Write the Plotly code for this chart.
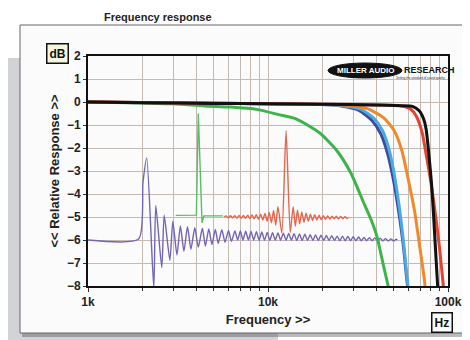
import plotly.graph_objects as go

# ---------------- data (frequency in kHz, level in dB) ----------------
black_f = [1, 2, 5, 10, 20, 40, 55, 63.5, 69.4, 73.3, 75.6, 77.8, 80.9, 83.2, 87.6, 88.5]
black_db = [0, -0.03, -0.06, -0.08, -0.1, -0.13, -0.16, -0.19, -0.39, -0.75, -1.18, -2.05, -3.5, -4.96, -8.0, -8.4]

red_f = [1, 10, 40, 55, 62, 66.7, 71.9, 75.9, 80.4, 85.4, 89.9, 93.8, 95]
red_db = [0, -0.08, -0.13, -0.17, -0.3, -0.62, -1.34, -2.35, -3.5, -4.96, -6.4, -7.85, -8.3]

orange_f = [1, 10, 20, 27.7, 35.6, 44, 50.3, 55.4, 59.8, 65.1, 69.3, 74, 75]
orange_db = [0, -0.08, -0.11, -0.14, -0.29, -0.69, -1.25, -2.11, -3.27, -4.71, -6.16, -7.75, -8.3]

ltblue_f = [1, 10, 20, 25.4, 32.7, 38.9, 43.5, 47.3, 50.7, 54, 56.8, 59.5, 60.5]
ltblue_db = [0, -0.08, -0.11, -0.15, -0.31, -0.72, -1.28, -2.14, -3.3, -4.74, -6.19, -7.79, -8.3]

dkblue_f = [1, 10, 20, 25, 32, 37.8, 42.3, 46.2, 49.8, 53.3, 56.4, 59.2, 60.3]
dkblue_db = [0, -0.08, -0.11, -0.16, -0.36, -0.8, -1.38, -2.25, -3.4, -4.8, -6.2, -7.8, -8.3]

green_f = [1, 2, 3, 4.45, 6.2, 8.65, 11.6, 14.4, 19.4, 24.1, 28.9, 34, 37.3, 40.2, 43.4, 46.5, 47.3]
green_db = [0, -0.04, -0.08, -0.17, -0.22, -0.32, -0.56, -0.74, -1.35, -2.11, -3.1, -4.38, -5.1, -5.82, -6.97, -8.0, -8.3]

# impulse responses drawn on the same axes
gimp_f = [3.07, 4.0, 4.1, 4.3, 4.4, 5.61]
gimp_db = [-4.93, -4.92, -0.5, -5.25, -4.95, -4.95]

rimp_f = [5.70, 5.85, 6.02, 6.19, 6.36, 6.54, 6.72, 6.91, 7.10, 7.30, 7.50, 7.71, 7.93, 8.15,
          8.38, 8.61, 8.85, 9.10, 9.35, 9.62, 9.89, 10.16, 10.45, 10.74, 11.04, 11.35,
          11.94, 12.6, 13.29,
          13.8, 14.19, 14.58, 14.99, 15.41, 15.84, 16.28, 16.74, 17.21, 17.69, 18.18, 18.69,
          19.22, 19.75, 20.31, 20.88, 21.46, 22.06, 22.68, 23.31, 23.97, 24.64, 25.33, 26.04,
          26.77, 27.52, 28.0]
rimp_db = [-5.0, -4.95, -5.04, -4.94, -5.04, -4.94, -5.05, -4.93, -5.05, -4.93, -5.06, -4.92, -5.07, -4.91,
           -5.08, -4.9, -5.1, -4.88, -5.13, -4.85, -5.18, -4.80, -5.25, -4.72, -5.35, -4.55,
           -5.7, -1.25, -5.68,
           -4.55, -5.4, -4.7, -5.3, -4.78, -5.23, -4.84, -5.18, -4.88, -5.15, -4.9, -5.13,
           -4.92, -5.12, -4.94, -5.1, -4.95, -5.09, -4.96, -5.08, -4.97, -5.08, -4.98, -5.07,
           -4.99, -5.06, -5.03]

pimp_f = [1.0, 1.91, 2.02, 2.12, 2.32, 2.38, 2.57, 2.65, 2.85, 2.96, 3.12, 3.26, 3.41, 3.57, 3.73,
          3.92, 4.10, 4.32, 4.49, 4.69, 4.88, 5.10, 5.29, 5.54, 5.77, 6.03, 6.27, 6.55,
          6.78, 7.02, 7.26, 7.52, 7.78, 8.05, 8.33, 8.62, 8.93, 9.24, 9.56, 9.90, 10.24, 10.60,
          10.97, 11.36, 11.75, 12.17, 12.59, 13.03, 13.49, 13.96, 14.45, 14.95, 15.48, 16.02,
          16.58, 17.16, 17.76, 18.38, 19.03, 19.69, 20.38, 21.10, 21.83, 22.60, 23.39, 24.21,
          25.05, 25.93, 26.84, 27.78, 28.75, 29.76, 30.80, 31.87, 32.99, 34.15, 35.34, 36.58,
          37.86, 39.18, 40.55, 41.97, 43.44, 44.96, 46.54, 48.17, 49.85, 51.6, 52.3]
pimp_db = [-6.0, -5.96, -3.5, -2.43, -8.1, -4.5, -7.2, -4.92, -6.88, -5.19, -6.65, -5.39, -6.49, -5.42, -6.40,
           -5.47, -6.31, -5.49, -6.26, -5.52, -6.2, -5.54, -6.15, -5.55, -6.1, -5.58, -6.06, -5.61,
           -6.00, -5.61, -6.00, -5.62, -6.00, -5.63, -6.00, -5.64, -6.01, -5.65, -6.01, -5.67, -6.01, -5.68,
           -6.01, -5.69, -6.01, -5.70, -6.01, -5.72, -6.01, -5.73, -6.02, -5.74, -6.02, -5.75,
           -6.02, -5.77, -6.02, -5.78, -6.02, -5.79, -6.02, -5.80, -6.02, -5.81, -6.02, -5.83,
           -6.03, -5.84, -6.03, -5.85, -6.03, -5.86, -6.03, -5.87, -6.03, -5.89, -6.03, -5.90,
           -6.03, -5.91, -6.04, -5.92, -6.04, -5.94, -6.04, -5.95, -6.04, -5.96, -6.0]

x_tick_vals = [1000, 10000, 100000]
x_tick_text = ["1k", "10k", "100k"]
x_minor_vals = [2000, 3000, 4000, 5000, 6000, 7000, 8000, 9000,
                20000, 30000, 40000, 50000, 60000, 70000, 80000, 90000]
y_tick_vals = [2, 1, 0, -1, -2, -3, -4, -5, -6, -7, -8]

# ---------------- layout helpers ----------------
W, H = 470, 340
ML, MR, MT, MB = 80, 30, 48, 62
PW, PH = W - ML - MR, H - MT - MB


def px(x):
    return (x - ML) / PW


def py(y):
    return (H - MB - y) / PH


FONT = "Arial, Liberation Sans, sans-serif"

fig = go.Figure()


def add(f_khz, db, color, width, shape="linear"):
    fig.add_trace(go.Scatter(x=[v * 1000 for v in f_khz], y=db, mode="lines",
                             line=dict(color=color, width=width, shape=shape,
                                       smoothing=0.6 if shape == "spline" else None),
                             hoverinfo="skip", showlegend=False, cliponaxis=True))


add(pimp_f, pimp_db, "#7464b4", 1.4, "spline")
add(gimp_f, gimp_db, "#5cbc64", 1.4)
add(rimp_f, rimp_db, "#e4664c", 1.4, "spline")
add(green_f, green_db, "#3cb44a", 3, "spline")
add(dkblue_f, dkblue_db, "#3c4c9c", 3, "spline")
add(ltblue_f, ltblue_db, "#4aaae2", 3, "spline")
add(orange_f, orange_db, "#f0892a", 3, "spline")
add(red_f, red_db, "#e3432e", 3, "spline")
add(black_f, black_db, "#111111", 3, "spline")

shapes = [
    # grey backdrop and white card
    dict(type="rect", xref="paper", yref="paper", x0=px(0), x1=px(270), y0=py(340), y1=py(50),
         fillcolor="#d2d3d7", line=dict(width=0), layer="below"),
    dict(type="rect", xref="paper", yref="paper", x0=px(14), x1=px(468), y0=py(329), y1=py(325),
         fillcolor="rgba(60,60,60,0.35)", line=dict(width=0), layer="below"),
    dict(type="rect", xref="paper", yref="paper", x0=px(12), x1=px(466), y0=py(325), y1=py(17),
         fillcolor="#fbfbfb", line=dict(color="#666666", width=1), layer="below"),
    # logo
    dict(type="circle", xref="paper", yref="paper", x0=px(320), x1=px(394), y0=py(70), y1=py(55),
         fillcolor="#111111", line=dict(color="#111111", width=1)),
]

annotations = [
    dict(text="<b>dB</b>", xref="paper", yref="paper", x=px(49), y=py(45), showarrow=False,
         font=dict(family=FONT, size=12, color="#111"), bgcolor="#f6f6dc", bordercolor="#111",
         borderwidth=1.5, borderpad=2, xanchor="center", yanchor="middle"),
    dict(text="<b>Hz</b>", xref="paper", yref="paper", x=px(434), y=py(314), showarrow=False,
         font=dict(family=FONT, size=12, color="#111"), bgcolor="#ffffff", bordercolor="#111",
         borderwidth=1.5, borderpad=2, xanchor="center", yanchor="middle"),
    dict(text="<b>MILLER AUDIO</b>", xref="paper", yref="paper", x=px(357), y=py(62.5), showarrow=False,
         font=dict(family=FONT, size=8, color="#ffffff"), xanchor="center", yanchor="middle"),
    dict(text="<b>RESEARCH</b>", xref="paper", yref="paper", x=px(394), y=py(62.5), showarrow=False,
         font=dict(family=FONT, size=9, color="#111111"), xanchor="left", yanchor="middle"),
    dict(text="Setting the standard of sound quality", xref="paper", yref="paper", x=px(439), y=py(70),
         showarrow=False, font=dict(family=FONT, size=3, color="#333"), xanchor="right", yanchor="middle"),
    dict(text="<b>Frequency response</b>", xref="paper", yref="paper", x=px(150), y=py(1),
         showarrow=False, font=dict(family=FONT, size=11, color="#222"), xanchor="center",
         yanchor="top"),
]

fig.update_layout(
    width=W, height=H,
    margin=dict(l=ML, r=MR, t=MT, b=MB),
    paper_bgcolor="#ffffff",
    plot_bgcolor="#f8f8e2",
    font=dict(family=FONT, color="#222"),
    shapes=shapes,
    annotations=annotations,
    showlegend=False,
)

fig.update_xaxes(
    type="log", range=[3, 5],
    tickvals=x_tick_vals, ticktext=x_tick_text,
    tickfont=dict(family=FONT, size=12, color="#222", weight="bold"),
    ticks="outside", ticklen=4, tickcolor="#333",
    showgrid=True, gridcolor="#c4bab4", gridwidth=1,
    minor=dict(tickvals=x_minor_vals, showgrid=True, gridcolor="#c4bab4", gridwidth=1,
               ticks="outside", ticklen=3, tickcolor="#333"),
    showline=True, linecolor="#111", linewidth=2, mirror=True,
    zeroline=False,
    title=dict(text="<b>Frequency >></b>", font=dict(family=FONT, size=13, color="#222"), standoff=6),
)

fig.update_yaxes(
    range=[-8, 2], tickvals=y_tick_vals,
    tickfont=dict(family=FONT, size=12, color="#222", weight="bold"),
    ticks="outside", ticklen=3, tickcolor="#333",
    showgrid=True, gridcolor="#c4bab4", gridwidth=1,
    showline=True, linecolor="#111", linewidth=2, mirror=True,
    zeroline=False,
    title=dict(text="<b><< Relative Response >></b>", font=dict(family=FONT, size=13, color="#222"),
               standoff=4),
)

fig.write_html("out.html")
